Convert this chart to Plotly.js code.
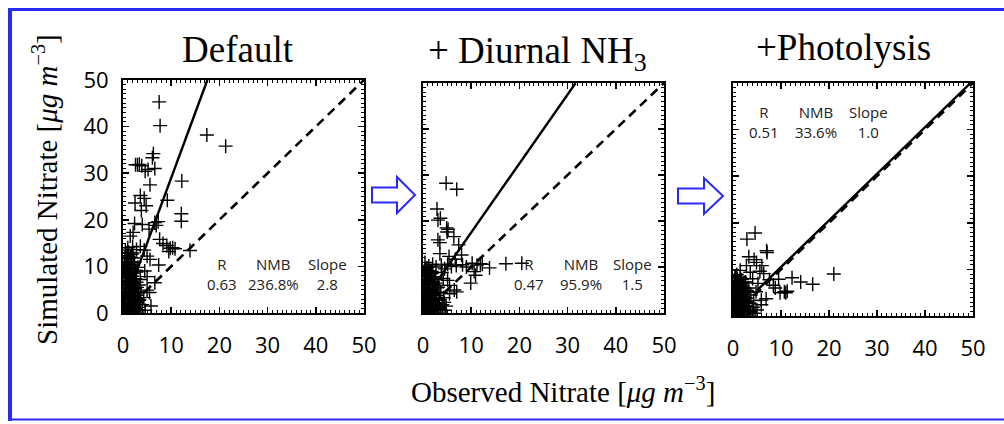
<!DOCTYPE html>
<html>
<head>
<meta charset="utf-8">
<script src="https://cdn.plot.ly/plotly-3.0.1.min.js"></script>
<style>html,body{margin:0;padding:0;background:#fff;} #chart{width:1004px;height:424px;}</style>
</head>
<body>
<div id="chart"></div>
<script>
// ---------- data ----------
const panelTitles = ["Default", "+ Diurnal NH<sub>3</sub>", "+Photolysis"];
const axisRange = [0, 50];
const majorStep = 10;
const minorStep = 1;

const statR = ["0.63", "0.47", "0.51"];
const statNMB = ["236.8%", "95.9%", "33.6%"];
const statSlope = ["2.8", "1.5", "1.0"];
const fitSlope = [2.8, 1.5, 1.0];
const fitIntercept = [1.0, 2.5, 0.5];
const fitStartObs = [1.0, 3.0, 5.0];

// Panel 1: Default
const obs1 = [7.5,7.7,17.4,21.3,6.3,6.1,2.6,3.0,3.4,3.9,5.2,6.6,4.6,5.6,12.2,3.6,4.4,9.2,2.5,4.8,3.8,12.1,12.1,
  6.6,7.3,6.9,2.4,4.0,5.4,2.1,1.5,7.6,8.3,9.1,9.8,10.3,10.8,9.5,13.9,1.0,2.0,2.8,3.6,4.4,5.0,5.6,7.4,
  0.5,0.9,1.6,2.4,3.1,2.8,4.5,3.6,5.0,6.6,5.5,5.0,
  0.2,0.3,0.5,0.4,0.6,0.2,0.8,1.0,1.2,1.1,1.3,1.5,1.4,1.7,1.9,2.0,2.2,1.8,2.3,2.5,2.7,2.9,2.6,3.2,3.4,3.7,3.3,
  0.7,0.1,0.9,1.6,0.3,2.1,4.0,4.3,3.0,4.6,1.0,0.5,1.2,3.3,5.8,
  0.3,0.6,0.9,1.2,1.5,1.8,2.1,2.4,2.7,3.0,3.3,3.6,0.4,0.7,1.0,1.3,1.6,1.9,2.2,2.5,2.8,3.1,
  0.2,0.5,0.8,1.1,1.4,1.7,2.0,2.3,2.6,0.3,0.6,0.9,1.2,1.5,1.8,0.4,0.8,1.2,1.6,2.0,0.5,1.0,0.2,0.6];
const sim1 = [45.3,40.2,38.2,35.8,34.2,33.3,31.8,31.8,31.9,31.6,30.8,31.0,30.4,27.5,28.3,25.2,24.6,24.2,23.6,23.0,22.0,21.3,19.7,
  19.4,19.6,18.8,19.2,19.0,18.0,17.3,16.5,15.8,14.9,14.5,13.9,14.0,13.8,13.2,13.4,14.0,14.2,13.6,14.3,13.5,12.2,11.5,10.3,
  12.8,11.0,10.5,10.9,9.8,8.8,9.0,7.2,7.8,6.5,4.4,4.9,
  1.0,2.5,4.0,6.0,8.0,9.5,0.5,2.0,3.5,5.2,7.0,8.5,0.3,1.5,3.0,4.6,6.3,9.5,0.8,2.2,3.8,5.5,7.3,1.2,2.8,4.5,6.0,
  0.2,3.2,6.8,12.0,10.8,11.8,1.8,3.3,0.2,0.6,9.8,13.5,13.0,2.8,1.5,
  0.6,1.1,1.6,0.9,2.4,0.4,1.9,3.1,1.0,2.4,0.7,1.8,3.7,4.4,3.0,4.1,5.6,4.9,3.6,5.2,6.6,4.3,
  5.3,6.6,7.4,6.1,8.1,6.8,7.9,8.6,9.2,7.7,9.0,9.6,10.4,11.0,12.6,11.6,12.3,9.1,10.2,12.9,2.1,1.3,8.9,10.2];

// Panel 2: + Diurnal NH3
const obs2 = [4.8,7.0,2.9,3.1,3.6,4.9,5.2,5.0,6.4,3.1,3.5,7.4,3.5,5.4,6.7,8.0,
  0.4,1.2,2.0,2.7,3.8,4.5,5.1,5.9,6.9,8.2,9.0,10.2,11.2,11.9,12.3,13.8,17.2,20.5,
  10.6,10.9,9.9,5.1,5.5,6.5,5.5,7.0,
  0.2,0.3,0.5,0.4,0.6,0.2,0.8,1.0,1.2,1.1,1.3,1.5,1.4,1.7,1.9,2.0,2.2,1.8,2.3,2.5,2.7,2.9,2.6,3.2,3.4,3.7,3.3,
  0.7,0.1,0.9,4.0,4.3,3.0,4.6,4.2,3.9,
  0.3,0.6,0.9,1.2,1.5,1.8,2.1,2.4,2.7,3.0,3.3,3.6,0.4,0.7,1.0,1.3,1.6,1.9,2.2,2.5,2.8,3.1,
  0.2,0.5,0.8,1.1,1.4,1.7,2.0,2.3,2.6,0.3,0.6,0.9,1.2,1.5,1.8,0.4,0.8,1.2,1.6,2.0,0.5,1.0,4.4,4.8];
const sim2 = [28.2,26.9,22.6,20.2,20.6,18.5,18.2,17.6,16.6,15.9,15.3,14.8,12.9,12.3,11.7,12.6,
  11.0,10.2,10.6,10.0,10.4,9.6,10.6,10.1,10.3,10.5,10.0,10.8,10.4,10.7,10.6,9.8,10.7,10.8,
  9.0,8.2,6.5,7.1,6.0,5.0,4.2,4.6,
  1.0,2.5,4.0,6.0,8.0,9.0,0.5,2.0,3.5,5.2,7.0,8.5,0.3,1.5,3.0,4.6,6.3,9.0,0.8,2.2,3.8,5.5,7.3,1.2,2.8,4.5,6.0,
  0.2,3.2,6.8,1.8,3.3,0.2,0.6,7.5,8.8,
  0.7,1.3,0.4,1.8,0.9,2.6,1.5,0.6,2.2,1.1,2.9,0.8,3.4,2.8,4.2,3.5,4.8,3.9,5.1,4.4,3.2,5.6,
  5.9,6.4,5.5,7.1,6.2,7.6,6.8,7.9,6.5,8.3,7.4,8.8,8.1,9.2,8.6,9.5,9.8,4.7,2.9,3.9,1.9,1.2,2.3,1.5];

// Panel 3: + Photolysis
const obs3 = [4.6,2.9,7.0,7.1,3.3,4.4,2.8,4.9,6.0,5.6,21.0,12.3,14.1,16.6,10.7,11.0,11.3,9.8,8.4,8.8,7.6,9.5,5.9,5.9,6.9,6.4,3.6,1.5,0.5,
  0.2,0.3,0.5,0.4,0.6,0.8,1.0,1.2,1.1,1.3,1.4,1.7,1.9,2.0,2.2,2.3,2.5,2.7,2.9,2.6,3.2,3.4,3.7,3.3,
  0.7,0.1,0.9,4.0,4.3,3.0,4.6,4.8,5.2,4.1,
  0.3,0.6,0.9,1.2,1.5,1.8,2.1,2.4,2.7,3.0,3.3,3.6,0.4,0.7,1.0,1.3,1.6,1.9,2.2,2.5,2.8,3.1,
  0.2,0.5,0.8,1.1,1.4,1.7,2.0,2.3,2.6,0.3,0.6,0.9,1.2,1.5,1.8,0.4,0.8,1.2,1.6,2.0,0.5,1.0,4.2,5.0];
const sim3 = [17.8,16.5,14.0,13.6,12.7,12.1,10.8,11.5,10.8,9.6,9.0,8.2,7.3,6.8,5.2,5.0,5.3,5.0,6.6,6.0,7.8,7.9,3.4,2.4,3.7,9.1,9.4,9.8,8.6,
  1.0,2.5,4.0,6.0,7.4,0.5,2.0,3.5,5.2,6.8,0.3,1.5,3.0,4.6,6.1,0.8,2.2,3.8,5.5,7.3,1.2,2.8,4.5,6.0,
  0.2,3.2,6.8,1.8,3.3,0.2,0.6,5.2,7.0,8.0,
  0.5,1.2,0.8,1.6,0.3,2.3,1.4,0.7,2.0,1.0,2.7,0.9,3.1,2.5,3.8,3.2,4.4,3.6,4.7,4.0,2.9,5.1,
  5.4,5.9,5.0,6.4,5.6,6.9,6.2,7.2,5.9,7.6,6.7,8.0,7.3,8.3,7.8,8.6,8.9,4.2,2.6,3.5,1.7,1.1,1.9,1.3];

const obsAll = [obs1, obs2, obs3];
const simAll = [sim1, sim2, sim3];

// ---------- layout helpers ----------
const W = 1004, H = 424;
const px = x => x / W;
const py = y => 1 - y / H;

const boxes = [
  {l: 123, r: 364, t: 80, b: 313},
  {l: 423, r: 664, t: 83, b: 313},
  {l: 733, r: 973, t: 83, b: 316}
];

const traces = [];
const layout = {
  width: W, height: H,
  margin: {l: 0, r: 0, t: 0, b: 0},
  paper_bgcolor: "#ffffff",
  plot_bgcolor: "#ffffff",
  showlegend: false,
  annotations: [],
  shapes: []
};

for (let i = 0; i < 3; i++) {
  const sfx = i === 0 ? "" : String(i + 1);
  const xa = "x" + sfx, ya = "y" + sfx;
  traces.push({
    type: "scatter", mode: "markers", x: obsAll[i], y: simAll[i],
    xaxis: xa, yaxis: ya, cliponaxis: true,
    marker: {symbol: "cross-thin-open", size: 10, color: "#000", line: {color: "#000", width: 1.4}},
    hoverinfo: "skip"
  });
  traces.push({
    type: "scatter", mode: "lines", x: axisRange, y: axisRange, xaxis: xa, yaxis: ya,
    line: {color: "#000", width: 2.6, dash: "9px,6px"}, hoverinfo: "skip"
  });
  const x0 = fitStartObs[i];
  const x1 = Math.min(axisRange[1], (axisRange[1] - fitIntercept[i]) / fitSlope[i]);
  traces.push({
    type: "scatter", mode: "lines", x: [x0, x1],
    y: [fitSlope[i] * x0 + fitIntercept[i], fitSlope[i] * x1 + fitIntercept[i]],
    xaxis: xa, yaxis: ya, line: {color: "#000", width: 2.4}, hoverinfo: "skip"
  });

  const b = boxes[i];
  const common = {
    range: axisRange, tickmode: "linear", tick0: 0, dtick: majorStep,
    showgrid: false, zeroline: false, showline: true, linecolor: "#000", linewidth: 2,
    mirror: "allticks", ticks: "inside", ticklen: 6, tickwidth: 1.5, tickcolor: "#000",
    minor: {dtick: minorStep, tick0: 0, ticks: "inside", ticklen: 3, tickwidth: 1, tickcolor: "#000", showgrid: false},
    tickfont: {family: "Open Sans", size: 22, color: "#000"},
    fixedrange: true
  };
  layout["xaxis" + sfx] = Object.assign({}, common, {
    domain: [px(b.l), px(b.r)], anchor: ya, ticklabelstandoff: 12
  });
  layout["yaxis" + sfx] = Object.assign({}, common, {
    domain: [py(b.b), py(b.t)], anchor: xa, showticklabels: i === 0, ticklabelstandoff: 8
  });
}

// panel titles
const titlePos = [[238, 49], [537, 53], [843, 47]];
for (let i = 0; i < 3; i++) {
  layout.annotations.push({
    xref: "paper", yref: "paper", x: px(titlePos[i][0]), y: py(titlePos[i][1]),
    xanchor: "center", yanchor: "middle", showarrow: false, text: panelTitles[i],
    font: {family: "Liberation Serif", size: 37, color: "#000"}
  });
}

// stats annotations
const statPos = [
  {cols: [20.5, 31.3, 42.5], y: 8.4},
  {cols: [22.0, 32.8, 43.4], y: 8.5},
  {cols: [6.5, 17.3, 28.3], y: 41.6}
];
for (let i = 0; i < 3; i++) {
  const sfx = i === 0 ? "" : String(i + 1);
  const texts = ["R<br>" + statR[i], "NMB<br>" + statNMB[i], "Slope<br>" + statSlope[i]];
  for (let k = 0; k < 3; k++) {
    layout.annotations.push({
      xref: "x" + sfx, yref: "y" + sfx, x: statPos[i].cols[k], y: statPos[i].y,
      xanchor: "center", yanchor: "middle", showarrow: false, align: "center",
      text: texts[k], font: {family: "Open Sans", size: 15, color: "#222"}
    });
  }
}

// axis titles
layout.annotations.push({
  xref: "paper", yref: "paper", x: px(45), y: py(190), xanchor: "center", yanchor: "middle",
  textangle: -90, showarrow: false,
  text: "Simulated Nitrate [<i>μg m</i><sup>−3</sup>]",
  font: {family: "Liberation Serif", size: 29, color: "#000"}
});
layout.annotations.push({
  xref: "paper", yref: "paper", x: px(563), y: py(390), xanchor: "center", yanchor: "middle",
  showarrow: false,
  text: "Observed Nitrate [<i>μg m</i><sup>−3</sup>]",
  font: {family: "Liberation Serif", size: 29, color: "#000"}
});

// arrows
function arrowPath(x0, shaftEnd, tip, yc) {
  const pts = [[x0, yc - 7.5], [shaftEnd, yc - 7.5], [shaftEnd, yc - 18], [tip, yc],
               [shaftEnd, yc + 18], [shaftEnd, yc + 7.5], [x0, yc + 7.5]];
  return "M" + pts.map(p => px(p[0]) + "," + py(p[1])).join(" L") + " Z";
}
const frameColor = "#2a2af5";
[[372, 397, 415, 195], [678, 704, 723, 196]].forEach(a => {
  layout.shapes.push({
    type: "path", xref: "paper", yref: "paper", path: arrowPath(a[0], a[1], a[2], a[3]),
    line: {color: frameColor, width: 2}, fillcolor: "rgba(0,0,0,0)"
  });
});

// frame
layout.shapes.push({type: "line", xref: "paper", yref: "paper", x0: px(10), x1: px(10), y0: py(8), y1: py(421), line: {color: frameColor, width: 4}});
layout.shapes.push({type: "line", xref: "paper", yref: "paper", x0: px(8), x1: 1, y0: py(9.5), y1: py(9.5), line: {color: frameColor, width: 3}});
layout.shapes.push({type: "line", xref: "paper", yref: "paper", x0: px(8), x1: 1, y0: py(419.5), y1: py(419.5), line: {color: frameColor, width: 2}});

Plotly.newPlot("chart", traces, layout, {displayModeBar: false, staticPlot: true});
</script>
</body>
</html>
